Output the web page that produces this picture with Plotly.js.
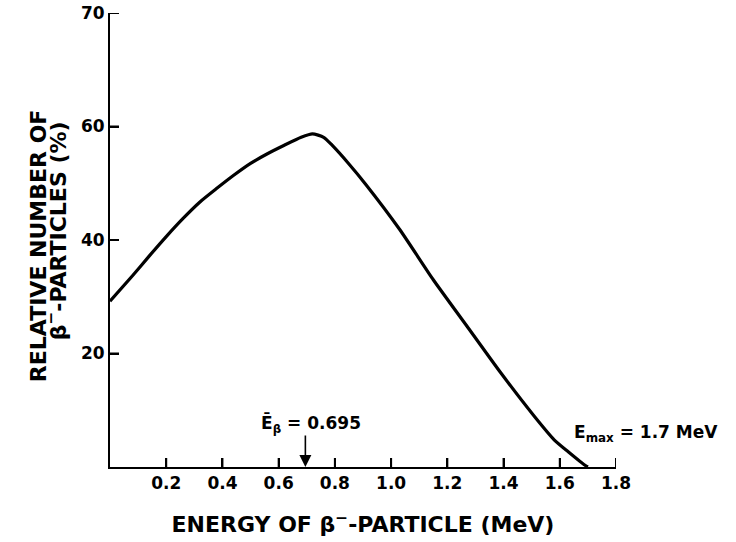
<!DOCTYPE html>
<html>
<head>
<meta charset="utf-8">
<script src="https://cdn.plot.ly/plotly-3.0.1.min.js"></script>
<style>html,body{margin:0;padding:0;background:#fff;}#chart{width:736px;height:542px;}</style>
</head>
<body>
<div id="chart"></div>
<script>
// Beta spectrum
const energy = [0, 0.08, 0.14, 0.2, 0.26, 0.32, 0.38, 0.44, 0.5, 0.56, 0.62, 0.68, 0.72, 0.76, 0.79, 0.85, 0.91, 1.03, 1.15, 1.27, 1.39, 1.51, 1.58, 1.63, 1.69, 1.7];
const relNumber = [29.2, 33.7, 37.2, 40.6, 43.8, 46.7, 49.1, 51.4, 53.5, 55.2, 56.7, 58.1, 58.7, 58.1, 56.7, 53.4, 49.8, 41.9, 33.0, 24.8, 16.6, 8.9, 4.8, 2.7, 0.3, 0];
const xTickVals = [0.2, 0.4, 0.6, 0.8, 1.0, 1.2, 1.4, 1.6, 1.8];
const xTickText = ['0.2', '0.4', '0.6', '0.8', '1.0', '1.2', '1.4', '1.6', '1.8'];
const yTickVals = [20, 40, 60, 80];
const yTickText = ['20', '40', '60', '70'];
const meanE = 0.695;
const maxE = 1.7;

const boldFont = {family: 'DejaVu Sans', size: 17, color: '#000', weight: 'bold'};
const titleFont = {family: 'DejaVu Sans', size: 22, color: '#000', weight: 'bold'};

const trace = {
  x: energy, y: relNumber, type: 'scatter', mode: 'lines',
  line: {color: '#000', width: 3.2, shape: 'spline', smoothing: 0.6},
  hoverinfo: 'skip', showlegend: false
};

// inward tick marks drawn as pixel-sized shapes anchored at the axis values
const tickShapes = [];
xTickVals.forEach(v => tickShapes.push({
  type: 'line', xref: 'x', yref: 'y', x0: v, x1: v,
  ysizemode: 'pixel', yanchor: 0, y0: 0, y1: 9,
  line: {color: '#000', width: 2}, layer: 'above'
}));
yTickVals.forEach(v => tickShapes.push({
  type: 'line', xref: 'x', yref: 'y', y0: v, y1: v,
  xsizemode: 'pixel', xanchor: 0, x0: 0, x1: 9,
  line: {color: '#000', width: 2}, layer: 'above'
}));

const layout = {
  width: 736, height: 542,
  margin: {l: 110, r: 120, t: 13, b: 75},
  paper_bgcolor: '#fff', plot_bgcolor: '#fff',
  showlegend: false,
  xaxis: {
    range: [0, 1.8], showgrid: false, zeroline: false,
    showline: true, linecolor: '#000', linewidth: 2,
    ticks: 'inside', ticklen: 9, tickwidth: 2, tickcolor: '#000',
    tickmode: 'array', tickvals: xTickVals, ticktext: xTickText,
    tickfont: boldFont,
    title: {text: 'ENERGY OF β<sup>−</sup>-PARTICLE (MeV)', font: titleFont, standoff: 24},
    automargin: false, fixedrange: true
  },
  yaxis: {
    range: [0, 80], showgrid: false, zeroline: false,
    showline: true, linecolor: '#000', linewidth: 2,
    ticks: 'inside', ticklen: 9, tickwidth: 2, tickcolor: '#000',
    tickmode: 'array', tickvals: yTickVals, ticktext: yTickText,
    tickfont: boldFont,
    automargin: false, fixedrange: true
  },
  shapes: tickShapes,
  annotations: [
    {xref: 'paper', yref: 'paper', x: -0.142, y: (467 - 246) / 454, xanchor: 'center', yanchor: 'middle',
     text: 'RELATIVE NUMBER OF', textangle: -90, showarrow: false, font: titleFont},
    {xref: 'paper', yref: 'paper', x: -0.106, y: (467 - 231) / 454, xanchor: 'center', yanchor: 'middle',
     text: 'β<sup>−</sup>-PARTICLES (%)', textangle: -90, showarrow: false, font: titleFont},
    {xref: 'x', yref: 'y', x: meanE, y: 0, ax: 0, ay: -33, text: '', showarrow: true,
     arrowhead: 2, arrowsize: 1.5, arrowwidth: 1.6, arrowcolor: '#000', standoff: 0},
    {xref: 'x', yref: 'y', x: meanE, y: 0, xshift: 6, yshift: 43, xanchor: 'center', yanchor: 'middle',
     text: 'Ē<sub>β</sub> = 0.695', showarrow: false, font: boldFont},
    {xref: 'x', yref: 'y', x: maxE, y: 0, xshift: -16, yshift: 34, xanchor: 'left', yanchor: 'middle',
     text: 'E<sub>max</sub> = 1.7 MeV', showarrow: false, font: boldFont}
  ]
};

Plotly.newPlot('chart', [trace], layout, {displayModeBar: false, staticPlot: true});
</script>
</body>
</html>
